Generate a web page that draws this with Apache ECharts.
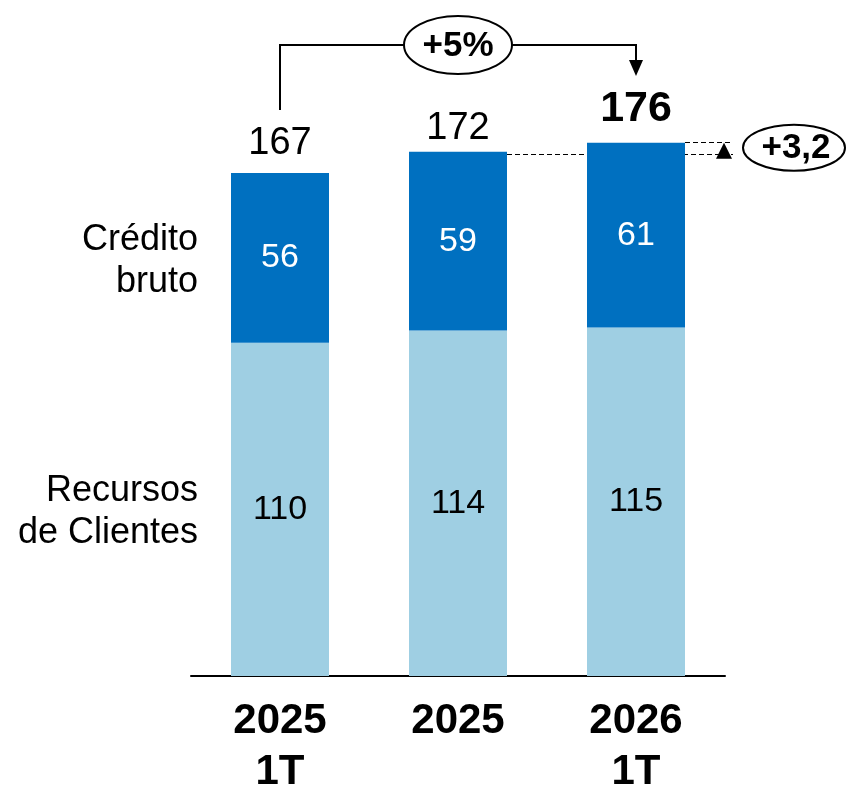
<!DOCTYPE html>
<html>
<head>
<meta charset="utf-8">
<script src="https://cdn.jsdelivr.net/npm/echarts@6/dist/echarts.min.js"></script>
<style>
  html, body { margin: 0; padding: 0; background: #fff; }
  #chart { width: 846px; height: 786px; }
</style>
</head>
<body>
<div id="chart"></div>
<script>
// data
const categories = ['2025\n1T', '2025', '2026\n1T'];
const recursos = [110, 114, 115];
const credito = [56, 59, 61];
const totals = [167, 172, 176];
const growthLabel = '+5%';
const deltaLabel = '+3,2';
const seriesNames = ['Recursos\nde Clientes', 'Crédito\nbruto'];

const FONT = "'Liberation Sans', Arial, sans-serif";
const DARK = '#0070C0';
const LIGHT = '#9FCFE3';

const chart = echarts.init(document.getElementById('chart'));

const option = {
  backgroundColor: '#fff',
  animation: false,
  grid: { left: 191, right: 121, top: 70, bottom: 110, outerBoundsMode: 'none' },
  xAxis: {
    type: 'category',
    data: categories,
    axisLine: { lineStyle: { color: '#000', width: 2 } },
    axisTick: { show: false },
    axisLabel: {
      color: '#000',
      fontFamily: FONT,
      fontWeight: 'bold',
      fontSize: 42,
      lineHeight: 51,
      margin: 20
    }
  },
  yAxis: { type: 'value', min: 0, max: 200, show: false, splitLine: { show: false } },
  series: [
    {
      name: seriesNames[0],
      type: 'bar',
      stack: 'total',
      barWidth: 98,
      itemStyle: { color: LIGHT },
      label: { show: true, position: 'inside', color: '#000', fontFamily: FONT, fontSize: 34 },
      data: recursos
    },
    {
      name: seriesNames[1],
      type: 'bar',
      stack: 'total',
      barWidth: 98,
      itemStyle: { color: DARK },
      label: { show: true, position: 'inside', color: '#fff', fontFamily: FONT, fontSize: 34 },
      data: credito
    },
    {
      // totals above each bar
      type: 'scatter',
      symbolSize: 0,
      itemStyle: { opacity: 1 },
      label: {
        show: true, position: 'top', distance: 7,
        color: '#000', fontFamily: FONT, fontSize: 38
      },
      data: totals.map((v, i) => i === totals.length - 1
        ? { value: v, label: { fontWeight: 'bold', fontSize: 43, distance: 12 } }
        : v)
    }
  ]
};
chart.setOption(option);

// annotations placed from the axis scales
const px = (i, v) => chart.convertToPixel({ gridIndex: 0 }, [categories[i], v]);
const half = 49;
const last = totals.length - 1;

const b0 = px(0, totals[0]);
const b1 = px(1, totals[1]);
const b2 = px(last, totals[last]);
const topY = 45;

const lineStyle = { stroke: '#000', lineWidth: 2, fill: null };
const dashStyle = { stroke: '#000', lineWidth: 1, lineDash: [5, 3] };
const dashEnd = 733;
const crisp = y => Math.round(y) - 0.5;

const graphics = [
  // bracket from first to last bar
  { type: 'polyline', shape: { points: [[b0[0], b0[1] - 60], [b0[0], topY], [b2[0], topY], [b2[0], 62]] }, style: lineStyle },
  { type: 'polygon', shape: { points: [[b2[0] - 7, 60], [b2[0] + 7, 60], [b2[0], 76]] }, style: { fill: '#000' } },
  { type: 'ellipse', shape: { cx: b1[0], cy: topY, rx: 54, ry: 29 }, style: { fill: '#fff', stroke: '#000', lineWidth: 2 } },
  { type: 'text', x: b1[0], y: topY + 1, style: { text: growthLabel, font: 'bold 35px ' + FONT, fill: '#000', align: 'center', verticalAlign: 'middle' } },

  // dashed level lines and delta
  { type: 'line', shape: { x1: b1[0] + half, y1: crisp(b1[1]), x2: dashEnd, y2: crisp(b1[1]) }, style: dashStyle },
  { type: 'line', shape: { x1: b2[0] + half, y1: crisp(b2[1]), x2: dashEnd, y2: crisp(b2[1]) }, style: dashStyle },
  { type: 'polygon', shape: { points: [[716, b2[1] + 16], [732, b2[1] + 16], [724, b2[1]]] }, style: { fill: '#000' } },
  { type: 'ellipse', shape: { cx: 794, cy: b2[1] + 5, rx: 51, ry: 23 }, style: { fill: '#fff', stroke: '#000', lineWidth: 2 } },
  { type: 'text', x: 796, y: b2[1] + 6, style: { text: deltaLabel, font: 'bold 35px ' + FONT, fill: '#000', align: 'center', verticalAlign: 'middle' } }
];

// series names left of the first bar
const segMid = [recursos[0] / 2, recursos[0] + credito[0] / 2];
segMid.forEach((v, k) => {
  const p = px(0, v);
  graphics.push({
    type: 'text', x: p[0] - half - 33, y: p[1] + 3,
    style: { text: seriesNames[k], font: '36px ' + FONT, lineHeight: 42, fill: '#000', align: 'right', verticalAlign: 'middle' }
  });
});

chart.setOption({ graphic: graphics });
</script>
</body>
</html>
